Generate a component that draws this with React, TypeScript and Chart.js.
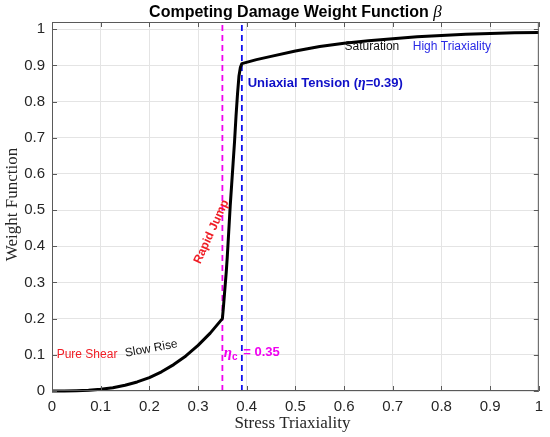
import { useEffect, useRef } from 'react'
import { Chart, registerables } from 'chart.js'

Chart.register(...registerables)

// stress triaxiality / weight function
const etaSlow = [0, 0.025, 0.05, 0.075, 0.1, 0.125, 0.15, 0.175, 0.2, 0.225, 0.25, 0.275, 0.3, 0.325, 0.35]
const betaSlow = [0, 0.0001, 0.001, 0.002, 0.005, 0.009, 0.016, 0.025, 0.037, 0.053, 0.073, 0.097, 0.126, 0.16, 0.2]
const etaJump = [0.352, 0.355, 0.358, 0.36, 0.363, 0.366, 0.369, 0.372, 0.375, 0.378, 0.381, 0.384, 0.387, 0.39]
const betaJump = [0.23, 0.28, 0.33, 0.37, 0.44, 0.51, 0.57, 0.63, 0.69, 0.76, 0.82, 0.87, 0.895, 0.905]
const etaSat = [0.42, 0.45, 0.5, 0.55, 0.6, 0.65, 0.7, 0.75, 0.8, 0.85, 0.9, 0.95, 1.0]
const betaSat = [0.916, 0.925, 0.94, 0.952, 0.961, 0.968, 0.974, 0.979, 0.983, 0.986, 0.988, 0.99, 0.991]

const criticalEta = 0.35
const uniaxialEta = 0.39

const xTicks = [0, 0.1, 0.2, 0.3, 0.4, 0.5, 0.6, 0.7, 0.8, 0.9, 1]
const yTicks = [0, 0.1, 0.2, 0.3, 0.4, 0.5, 0.6, 0.7, 0.8, 0.9, 1]

const SANS = '"Liberation Sans", Arial, sans-serif'
const SERIF = '"Liberation Serif", "Times New Roman", serif'

type Run = { text: string; font: string; dy?: number; gap?: number }
type Note = { x: number; y: number; color: string; angle: number; align: 'left' | 'center'; runs: Run[] }

const notes: Note[] = [
  { x: 0.0096, y: 0.099, color: '#f01c24', angle: 0, align: 'left', runs: [{ text: 'Pure Shear', font: `12px ${SANS}` }] },
  { x: 0.204, y: 0.117, color: '#111', angle: -10.5, align: 'center', runs: [{ text: 'Slow Rise', font: `12px ${SANS}` }] },
  { x: 0.3276, y: 0.44, color: '#f01c24', angle: -65.5, align: 'center', runs: [{ text: 'Rapid Jump', font: `bold 12px ${SANS}` }] },
  {
    x: 0.353, y: 0.106, color: '#f000f0', angle: 0, align: 'left',
    runs: [
      { text: 'η', font: `italic bold 15px ${SERIF}` },
      { text: 'c', font: `bold 10px ${SANS}`, dy: 5, gap: 2 },
      { text: ' = 0.35', font: `bold 13px ${SANS}` },
    ],
  },
  {
    x: 0.402, y: 0.85, color: '#1010c8', angle: 0, align: 'left',
    runs: [
      { text: 'Uniaxial Tension (', font: `bold 13px ${SANS}` },
      { text: 'η', font: `italic bold 14px ${SERIF}` },
      { text: '=0.39)', font: `bold 13px ${SANS}` },
    ],
  },
  { x: 0.601, y: 0.951, color: '#111', angle: 0, align: 'left', runs: [{ text: 'Saturation', font: `12px ${SANS}` }] },
  { x: 0.741, y: 0.951, color: '#2a2ae6', angle: 0, align: 'left', runs: [{ text: 'High Triaxiality', font: `12px ${SANS}` }] },
]

function drawRuns(ctx: CanvasRenderingContext2D, runs: Run[], x: number, y: number, color: string, angle: number, align: 'left' | 'center') {
  ctx.save()
  ctx.translate(x, y)
  ctx.rotate((angle * Math.PI) / 180)
  ctx.fillStyle = color
  ctx.textBaseline = 'middle'
  ctx.textAlign = 'left'
  let total = 0
  for (const r of runs) {
    ctx.font = r.font
    total += ctx.measureText(r.text).width + (r.gap ?? 0)
  }
  let cx = align === 'center' ? -total / 2 : 0
  for (const r of runs) {
    ctx.font = r.font
    ctx.fillText(r.text, cx, r.dy ?? 0)
    cx += ctx.measureText(r.text).width + (r.gap ?? 0)
  }
  ctx.restore()
}

const decorations = {
  id: 'decorations',
  afterDraw(chart: Chart) {
    const { ctx, chartArea: a, scales } = chart
    const xs = scales.x
    const ys = scales.y

    // box with inward ticks
    ctx.save()
    ctx.strokeStyle = '#5a5a5a'
    ctx.lineWidth = 1
    ctx.strokeRect(a.left + 0.5, a.top + 0.5, a.right - a.left - 1, a.bottom - a.top - 1)
    ctx.beginPath()
    for (const v of xTicks) {
      const px = Math.round(xs.getPixelForValue(v)) + 0.5
      ctx.moveTo(px, a.bottom)
      ctx.lineTo(px, a.bottom - 5)
      ctx.moveTo(px, a.top)
      ctx.lineTo(px, a.top + 5)
    }
    for (const v of yTicks) {
      const py = Math.round(ys.getPixelForValue(v)) + 0.5
      ctx.moveTo(a.left, py)
      ctx.lineTo(a.left + 5, py)
      ctx.moveTo(a.right, py)
      ctx.lineTo(a.right - 5, py)
    }
    ctx.stroke()
    ctx.restore()

    for (const n of notes) {
      drawRuns(ctx, n.runs, xs.getPixelForValue(n.x), ys.getPixelForValue(n.y), n.color, n.angle, n.align)
    }

    const midX = (a.left + a.right) / 2
    drawRuns(
      ctx,
      [
        { text: 'Competing Damage Weight Function ', font: `bold 16px ${SANS}` },
        { text: 'β', font: `italic 17px ${SERIF}` },
      ],
      midX, 12.5, '#000', 0, 'center',
    )
    drawRuns(ctx, [{ text: 'Stress Triaxiality', font: `17px ${SERIF}` }], midX - 3, 423.5, '#262626', 0, 'center')
    drawRuns(ctx, [{ text: 'Weight Function', font: `17px ${SERIF}` }], 13, (a.top + a.bottom) / 2 - 2, '#262626', -90, 'center')
  },
}

export default function App() {
  const canvasRef = useRef<HTMLCanvasElement | null>(null)

  useEffect(() => {
    document.body.style.margin = '0'
    if (!canvasRef.current) return
    const eta = [...etaSlow, ...etaJump, ...etaSat]
    const beta = [...betaSlow, ...betaJump, ...betaSat]
    const curve = eta.map((x, i) => ({ x, y: beta[i] }))

    const chart = new Chart(canvasRef.current, {
      type: 'line',
      data: {
        datasets: [
          {
            label: 'beta',
            data: curve,
            borderColor: '#000',
            borderWidth: 3,
            borderJoinStyle: 'round',
            pointRadius: 0,
            tension: 0,
            clip: false,
          },
          {
            label: 'critical',
            data: [{ x: criticalEta, y: 0 }, { x: criticalEta, y: 1.02 }],
            borderColor: '#f000f0',
            borderWidth: 1.8,
            borderDash: [6, 4],
            pointRadius: 0,
          },
          {
            label: 'uniaxial',
            data: [{ x: uniaxialEta, y: 0 }, { x: uniaxialEta, y: 1.02 }],
            borderColor: '#1010f0',
            borderWidth: 1.8,
            borderDash: [6, 4],
            pointRadius: 0,
          },
        ],
      },
      options: {
        responsive: true,
        maintainAspectRatio: false,
        animation: false,
        layout: { padding: { top: 22, right: 8, left: 0, bottom: 0 } },
        plugins: { legend: { display: false }, tooltip: { enabled: false }, title: { display: false } },
        scales: {
          x: {
            type: 'linear',
            min: 0,
            max: 1,
            afterBuildTicks: (s) => { s.ticks = xTicks.map((value) => ({ value })) },
            afterFit: (s) => { s.height = 46 },
            grid: { color: '#e4e4e4', drawTicks: false },
            border: { display: false },
            ticks: { padding: 7, color: '#262626', font: { family: SANS, size: 15 }, maxRotation: 0, callback: (v) => String(v) },
          },
          y: {
            type: 'linear',
            min: 0,
            max: 1.02,
            afterBuildTicks: (s) => { s.ticks = yTicks.map((value) => ({ value })) },
            afterFit: (s) => { s.width = 52 },
            grid: { color: '#e4e4e4', drawTicks: false },
            border: { display: false },
            ticks: { padding: 7, color: '#262626', font: { family: SANS, size: 15 }, callback: (v) => String(v) },
          },
        },
      },
      plugins: [decorations],
    })
    return () => chart.destroy()
  }, [])

  return (
    <div style={{ width: 550, height: 437, position: 'relative', background: '#fff' }}>
      <canvas ref={canvasRef} />
    </div>
  )
}
